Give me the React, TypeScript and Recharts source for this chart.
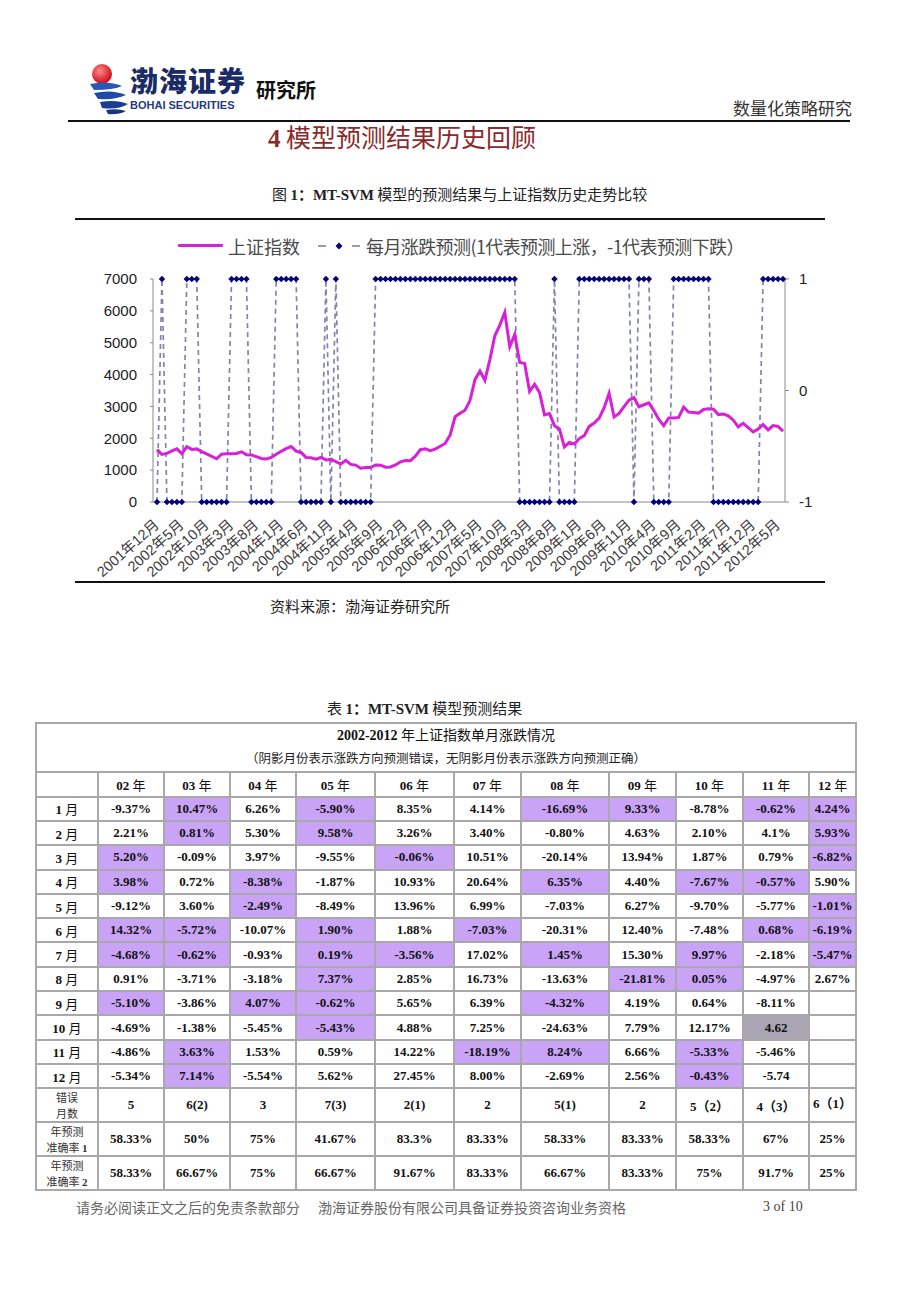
import React from "react";
import { LineChart, Line, XAxis, YAxis } from "recharts";

// 月份（每个点的预测对应下一个月）
const MONTHS = [
  "2001年12月",
  "2002年1月", "2002年2月", "2002年3月", "2002年4月", "2002年5月", "2002年6月", "2002年7月", "2002年8月", "2002年9月", "2002年10月", "2002年11月", "2002年12月",
  "2003年1月", "2003年2月", "2003年3月", "2003年4月", "2003年5月", "2003年6月", "2003年7月", "2003年8月", "2003年9月", "2003年10月", "2003年11月", "2003年12月",
  "2004年1月", "2004年2月", "2004年3月", "2004年4月", "2004年5月", "2004年6月", "2004年7月", "2004年8月", "2004年9月", "2004年10月", "2004年11月", "2004年12月",
  "2005年1月", "2005年2月", "2005年3月", "2005年4月", "2005年5月", "2005年6月", "2005年7月", "2005年8月", "2005年9月", "2005年10月", "2005年11月", "2005年12月",
  "2006年1月", "2006年2月", "2006年3月", "2006年4月", "2006年5月", "2006年6月", "2006年7月", "2006年8月", "2006年9月", "2006年10月", "2006年11月", "2006年12月",
  "2007年1月", "2007年2月", "2007年3月", "2007年4月", "2007年5月", "2007年6月", "2007年7月", "2007年8月", "2007年9月", "2007年10月", "2007年11月", "2007年12月",
  "2008年1月", "2008年2月", "2008年3月", "2008年4月", "2008年5月", "2008年6月", "2008年7月", "2008年8月", "2008年9月", "2008年10月", "2008年11月", "2008年12月",
  "2009年1月", "2009年2月", "2009年3月", "2009年4月", "2009年5月", "2009年6月", "2009年7月", "2009年8月", "2009年9月", "2009年10月", "2009年11月", "2009年12月",
  "2010年1月", "2010年2月", "2010年3月", "2010年4月", "2010年5月", "2010年6月", "2010年7月", "2010年8月", "2010年9月", "2010年10月", "2010年11月", "2010年12月",
  "2011年1月", "2011年2月", "2011年3月", "2011年4月", "2011年5月", "2011年6月", "2011年7月", "2011年8月", "2011年9月", "2011年10月", "2011年11月", "2011年12月",
  "2012年1月", "2012年2月", "2012年3月", "2012年4月", "2012年5月", "2012年6月",
];

const SH_INDEX = [
  1646,
  1492, 1525, 1604, 1668, 1516, 1733, 1652, 1667, 1582, 1508, 1434, 1358,
  1500, 1512, 1511, 1522, 1576, 1486, 1477, 1422, 1367, 1348, 1397, 1497,
  1591, 1675, 1742, 1596, 1556, 1399, 1386, 1342, 1397, 1321, 1341, 1267,
  1192, 1306, 1181, 1159, 1061, 1081, 1083, 1163, 1156, 1093, 1099, 1161,
  1258, 1299, 1298, 1440, 1641, 1672, 1613, 1659, 1752, 1838, 2099, 2675,
  2786, 2881, 3184, 3841, 4109, 3820, 4471, 5218, 5552, 5954, 4871, 5261,
  4383, 4348, 3472, 3693, 3433, 2736, 2776, 2397, 2294, 1729, 1871, 1821,
  1991, 2083, 2373, 2478, 2633, 2960, 3412, 2668, 2780, 2996, 3196, 3278,
  2990, 3053, 3110, 2871, 2593, 2399, 2638, 2639, 2656, 2980, 2821, 2809,
  2791, 2906, 2929, 2912, 2744, 2763, 2702, 2568, 2360, 2469, 2334, 2200,
  2293, 2429, 2264, 2397, 2373, 2226,
];

const FORECAST = [
  -1,
  1, -1, -1, -1, -1, 1, 1, 1, -1, -1, -1, -1,
  -1, -1, 1, 1, 1, 1, -1, -1, -1, -1, -1, 1,
  1, 1, 1, 1, -1, -1, -1, -1, -1, 1, -1, 1,
  -1, -1, -1, -1, -1, -1, -1, 1, 1, 1, 1, 1,
  1, 1, 1, 1, 1, 1, 1, 1, 1, 1, 1, 1,
  1, 1, 1, 1, 1, 1, 1, 1, 1, 1, 1, 1,
  -1, -1, -1, -1, -1, -1, -1, 1, -1, -1, -1, -1,
  1, 1, 1, 1, 1, 1, 1, 1, 1, 1, 1, -1,
  1, 1, 1, -1, -1, -1, -1, 1, 1, 1, 1, 1,
  1, 1, 1, -1, -1, -1, -1, -1, -1, -1, -1, -1,
  -1, 1, 1, 1, 1, 1,
];

const LEFT_TICKS = [0, 1000, 2000, 3000, 4000, 5000, 6000, 7000];
const RIGHT_TICKS = [-1, 0, 1];

// 表 1
const YEAR_HEADS = ["02", "03", "04", "05", "06", "07", "08", "09", "10", "11", "12"];
const MONTH_ROWS = ["1", "2", "3", "4", "5", "6", "7", "8", "9", "10", "11", "12"];
const RET_02 = ["-9.37%", "2.21%", "5.20%", "3.98%", "-9.12%", "14.32%", "-4.68%", "0.91%", "-5.10%", "-4.69%", "-4.86%", "-5.34%"];
const RET_03 = ["10.47%", "0.81%", "-0.09%", "0.72%", "3.60%", "-5.72%", "-0.62%", "-3.71%", "-3.86%", "-1.38%", "3.63%", "7.14%"];
const RET_04 = ["6.26%", "5.30%", "3.97%", "-8.38%", "-2.49%", "-10.07%", "-0.93%", "-3.18%", "4.07%", "-5.45%", "1.53%", "-5.54%"];
const RET_05 = ["-5.90%", "9.58%", "-9.55%", "-1.87%", "-8.49%", "1.90%", "0.19%", "7.37%", "-0.62%", "-5.43%", "0.59%", "5.62%"];
const RET_06 = ["8.35%", "3.26%", "-0.06%", "10.93%", "13.96%", "1.88%", "-3.56%", "2.85%", "5.65%", "4.88%", "14.22%", "27.45%"];
const RET_07 = ["4.14%", "3.40%", "10.51%", "20.64%", "6.99%", "-7.03%", "17.02%", "16.73%", "6.39%", "7.25%", "-18.19%", "8.00%"];
const RET_08 = ["-16.69%", "-0.80%", "-20.14%", "6.35%", "-7.03%", "-20.31%", "1.45%", "-13.63%", "-4.32%", "-24.63%", "8.24%", "-2.69%"];
const RET_09 = ["9.33%", "4.63%", "13.94%", "4.40%", "6.27%", "12.40%", "15.30%", "-21.81%", "4.19%", "7.79%", "6.66%", "2.56%"];
const RET_10 = ["-8.78%", "2.10%", "1.87%", "-7.67%", "-9.70%", "-7.48%", "9.97%", "0.05%", "0.64%", "12.17%", "-5.33%", "-0.43%"];
const RET_11 = ["-0.62%", "4.1%", "0.79%", "-0.57%", "-5.77%", "0.68%", "-2.18%", "-4.97%", "-8.11%", "4.62", "-5.46%", "-5.74"];
const RET_12 = ["4.24%", "5.93%", "-6.82%", "5.90%", "-1.01%", "-6.19%", "-5.47%", "2.67%", "", "", "", ""];
const RETURNS = [RET_02, RET_03, RET_04, RET_05, RET_06, RET_07, RET_08, RET_09, RET_10, RET_11, RET_12];

const WRONG_02 = [3, 4, 6, 7, 9];
const WRONG_03 = [1, 2, 6, 7, 11, 12];
const WRONG_04 = [4, 5, 9];
const WRONG_05 = [1, 2, 6, 7, 8, 9, 10];
const WRONG_06 = [3, 7];
const WRONG_07 = [6, 11];
const WRONG_08 = [1, 4, 7, 9, 11];
const WRONG_09 = [1, 8];
const WRONG_10 = [4, 7, 8, 11, 12];
const WRONG_11 = [1, 4, 6];
const WRONG_12 = [1, 2, 3, 5, 6, 7];
const WRONG = [WRONG_02, WRONG_03, WRONG_04, WRONG_05, WRONG_06, WRONG_07, WRONG_08, WRONG_09, WRONG_10, WRONG_11, WRONG_12];
const GRAY_CELL = { col: 9, month: 10 };

const ERR_MONTHS = ["5", "6(2)", "3", "7(3)", "2(1)", "2", "5(1)", "2", "5（2）", "4（3）", "6（1）"];
const ACC_1 = ["58.33%", "50%", "75%", "41.67%", "83.3%", "83.33%", "58.33%", "83.33%", "58.33%", "67%", "25%"];
const ACC_2 = ["58.33%", "66.67%", "75%", "66.67%", "91.67%", "83.33%", "66.67%", "83.33%", "75%", "91.7%", "25%"];

const COL_W = [62, 66, 66, 66, 79, 79, 67, 88, 67, 67, 66, 47];

const SANS = '"Liberation Sans", Arial, "Noto Sans CJK SC", sans-serif';
const SERIF = '"Liberation Serif", "Times New Roman", "Noto Sans CJK SC", serif';
const CJK = '"Noto Sans CJK SC", "Liberation Sans", sans-serif';

const chartData = MONTHS.map((m, i) => ({ month: m, idx: SH_INDEX[i], fc: FORECAST[i] }));

// eslint-disable-next-line @typescript-eslint/no-explicit-any
const Diamond = (p: any) => {
  const { cx, cy, index } = p;
  if (cx == null || cy == null) return null;
  const r = 3.2;
  return (
    <path
      key={`dm${index}`}
      d={`M${cx},${cy - r}L${cx + r},${cy}L${cx},${cy + r}L${cx - r},${cy}Z`}
      fill="#000080"
    />
  );
};

// eslint-disable-next-line @typescript-eslint/no-explicit-any
const XTick = (p: any) => {
  const { x, y, payload } = p;
  const ax = x + 3;
  const ay = y + 24;
  return (
    <text
      x={ax}
      y={ay}
      textAnchor="end"
      transform={`rotate(-42 ${ax} ${ay})`}
      fontSize={14.5}
      fill="#3a3a3a"
      fontFamily={SANS}
    >
      {payload.value}
    </text>
  );
};

const Txt = ({ left, top, size, children, style }: {
  left: number; top: number; size: number; children: React.ReactNode; style?: React.CSSProperties;
}) => (
  <div style={{ position: "absolute", left, top: top - size / 2, fontSize: size, lineHeight: `${size}px`, whiteSpace: "nowrap", ...style }}>
    {children}
  </div>
);

const cellBase: React.CSSProperties = {
  border: "2px solid #a8a8a8",
  textAlign: "center",
  verticalAlign: "middle",
  padding: 0,
  fontFamily: SERIF,
  fontSize: 13,
  fontWeight: "bold",
  color: "#111",
};

const labelCell: React.CSSProperties = { ...cellBase, fontFamily: CJK, fontWeight: "normal", fontSize: 11, color: "#333" };
const Line2 = ({ children }: { children: React.ReactNode }) => (
  <div style={{ height: 16, lineHeight: "16px", whiteSpace: "nowrap" }}>{children}</div>
);

function Logo() {
  return (
    <>
      <svg style={{ position: "absolute", left: 84, top: 60 }} width={46} height={56}>
        <defs>
          <radialGradient id="ball" cx="40%" cy="35%" r="60%">
            <stop offset="0%" stopColor="#ff8a8a" />
            <stop offset="100%" stopColor="#d3121e" />
          </radialGradient>
        </defs>
        <circle cx={18} cy={14} r={10} fill="url(#ball)" />
        <path d="M6,24 Q24,20 38,26 Q30,30 10,30 Z" fill="#2a56b8" />
        <path d="M10,33 Q28,29 42,35 Q32,40 14,39 Z" fill="#1f4aa8" />
        <path d="M16,42 Q32,39 44,44 Q34,50 18,48 Z" fill="#1a3d92" />
        <path d="M22,50 Q34,48 42,51 Q34,55 24,54 Z" fill="#17357e" />
      </svg>
      <Txt left={130} top={80} size={28} style={{ fontFamily: CJK, fontWeight: 900, color: "#1b2b66", letterSpacing: 1 }}>渤海证券</Txt>
      <Txt left={130} top={105} size={11} style={{ fontFamily: SANS, fontWeight: "bold", color: "#1f3a86" }}>BOHAI SECURITIES</Txt>
      <Txt left={256} top={90} size={20} style={{ fontFamily: CJK, fontWeight: "bold", color: "#111" }}>研究所</Txt>
    </>
  );
}

function Legend() {
  return (
    <>
      <div style={{ position: "absolute", left: 178, top: 244, width: 45, height: 3, background: "#d820d8", borderRadius: 1 }} />
      <Txt left={228} top={246} size={18} style={{ fontFamily: CJK, color: "#4a4a4a" }}>上证指数</Txt>
      <svg style={{ position: "absolute", left: 316, top: 238 }} width={48} height={16}>
        <line x1={2} y1={8} x2={10} y2={8} stroke="#8080aa" strokeWidth={1.6} />
        <line x1={36} y1={8} x2={44} y2={8} stroke="#8080aa" strokeWidth={1.6} />
        <path d="M23,4.5L26.5,8L23,11.5L19.5,8Z" fill="#000080" />
      </svg>
      <Txt left={366} top={246} size={18} style={{ fontFamily: CJK, color: "#4a4a4a", letterSpacing: -0.6 }}>
        每月涨跌预测(1代表预测上涨，-1代表预测下跌）
      </Txt>
    </>
  );
}

function Chart() {
  return (
    <div style={{ position: "absolute", left: 60, top: 260 }}>
      <LineChart width={770} height={330} data={chartData} margin={{ top: 19, right: 5, bottom: 0, left: 0 }}>
        <XAxis
          dataKey="month"
          interval={4}
          tick={<XTick />}
          tickLine={false}
          tickSize={0}
          tickMargin={0}
          height={88}
          axisLine={{ stroke: "#8a8a8a" }}
          padding={{ left: 4, right: 2 }}
        />
        <YAxis
          yAxisId="l"
          domain={[0, 7000]}
          ticks={LEFT_TICKS}
          width={93}
          tickSize={3}
          tickMargin={13}
          tickLine={{ stroke: "#8a8a8a" }}
          axisLine={{ stroke: "#8a8a8a" }}
          tick={{ fill: "#222", fontSize: 15, fontFamily: SANS }}
          allowDataOverflow
        />
        <YAxis
          yAxisId="r"
          orientation="right"
          domain={[-1, 1]}
          ticks={RIGHT_TICKS}
          width={40}
          tickSize={4}
          tickMargin={10}
          tickLine={{ stroke: "#8a8a8a" }}
          axisLine={{ stroke: "#8a8a8a" }}
          tick={{ fill: "#222", fontSize: 15, fontFamily: SANS }}
        />
        <Line
          yAxisId="r"
          dataKey="fc"
          type="linear"
          stroke="#8383ad"
          strokeWidth={1.7}
          strokeDasharray="5 4"
          dot={Diamond}
          activeDot={false}
          isAnimationActive={false}
        />
        <Line
          yAxisId="l"
          dataKey="idx"
          type="linear"
          stroke="#d820d8"
          strokeWidth={3}
          dot={false}
          activeDot={false}
          isAnimationActive={false}
        />
      </LineChart>
    </div>
  );
}

function Table() {
  const rowH = 24.3;
  return (
    <table
      style={{
        position: "absolute", left: 35, top: 722, width: 820, borderCollapse: "collapse",
        tableLayout: "fixed", border: "2px solid #a8a8a8",
      }}
    >
      <colgroup>
        {COL_W.map((w, i) => <col key={i} style={{ width: w }} />)}
      </colgroup>
      <tbody>
        <tr style={{ height: 48.7 }}>
          <td colSpan={12} style={{ ...cellBase, fontWeight: "normal" }}>
            <div style={{ fontSize: 14, lineHeight: "20px", fontWeight: "bold" }}>
              2002-2012 <span style={{ fontFamily: CJK, fontWeight: "normal" }}>年上证指数单月涨跌情况</span>
            </div>
            <div style={{ fontSize: 12.5, lineHeight: "24px", fontFamily: CJK, fontWeight: "normal", color: "#222" }}>
              （阴影月份表示涨跌方向预测错误，无阴影月份表示涨跌方向预测正确）
            </div>
          </td>
        </tr>
        <tr style={{ height: 25 }}>
          <td style={cellBase} />
          {YEAR_HEADS.map((y) => (
            <td key={y} style={cellBase}>
              {y} <span style={{ fontFamily: CJK, fontWeight: "normal" }}>年</span>
            </td>
          ))}
        </tr>
        {MONTH_ROWS.map((m, mi) => (
          <tr key={m} style={{ height: rowH }}>
            <td style={cellBase}>
              {m} <span style={{ fontFamily: CJK, fontWeight: "normal" }}>月</span>
            </td>
            {RETURNS.map((col, ci) => {
              const month = mi + 1;
              const gray = ci === GRAY_CELL.col && month === GRAY_CELL.month;
              const wrong = WRONG[ci].includes(month);
              const bg = gray ? "#a9a5b2" : wrong ? "#c9a3f6" : "#fff";
              return (
                <td key={ci} style={{ ...cellBase, background: bg }}>{col[mi]}</td>
              );
            })}
          </tr>
        ))}
        <tr>
          <td style={labelCell}>
            <Line2>错误</Line2>
            <Line2>月数</Line2>
          </td>
          {ERR_MONTHS.map((v, i) => (
            <td key={i} style={{ ...cellBase, verticalAlign: i === 10 ? "top" : "middle", paddingTop: i === 10 ? 4 : 0 }}>{v}</td>
          ))}
        </tr>
        <tr>
          <td style={labelCell}>
            <Line2>年预测</Line2>
            <Line2>准确率 <b style={{ fontFamily: SERIF }}>1</b></Line2>
          </td>
          {ACC_1.map((v, i) => <td key={i} style={cellBase}>{v}</td>)}
        </tr>
        <tr>
          <td style={labelCell}>
            <Line2>年预测</Line2>
            <Line2>准确率 <b style={{ fontFamily: SERIF }}>2</b></Line2>
          </td>
          {ACC_2.map((v, i) => <td key={i} style={cellBase}>{v}</td>)}
        </tr>
      </tbody>
    </table>
  );
}

export default function App() {
  return (
    <div style={{ position: "absolute", left: 0, top: 0, width: 920, height: 1301, background: "#fff", fontFamily: SERIF, color: "#111" }}>
      <Logo />
      <Txt left={733} top={107} size={17} style={{ fontFamily: CJK, color: "#333" }}>数量化策略研究</Txt>
      <div style={{ position: "absolute", left: 68, top: 120, width: 782, height: 2, background: "#111" }} />
      <Txt left={268} top={136} size={25} style={{ fontFamily: CJK, color: "#8b2a2a" }}>
        <b style={{ fontFamily: SERIF }}>4</b> 模型预测结果历史回顾
      </Txt>
      <Txt left={272} top={193} size={15} style={{ fontFamily: CJK, color: "#222" }}>
        图 <b style={{ fontFamily: SERIF }}>1：MT-SVM</b> 模型的预测结果与上证指数历史走势比较
      </Txt>
      <div style={{ position: "absolute", left: 75, top: 218, width: 750, height: 1.5, background: "#111" }} />
      <Legend />
      <Chart />
      <div style={{ position: "absolute", left: 75, top: 581, width: 750, height: 1.5, background: "#111" }} />
      <Txt left={270} top={605} size={15} style={{ fontFamily: CJK, color: "#222" }}>资料来源：渤海证券研究所</Txt>
      <Txt left={327} top={707} size={15} style={{ fontFamily: CJK, color: "#222" }}>
        表 <b style={{ fontFamily: SERIF }}>1：MT-SVM</b> 模型预测结果
      </Txt>
      <Table />
      <Txt left={76} top={1207} size={14} style={{ fontFamily: CJK, color: "#666" }}>请务必阅读正文之后的免责条款部分</Txt>
      <Txt left={318} top={1207} size={14} style={{ fontFamily: CJK, color: "#666" }}>渤海证券股份有限公司具备证券投资咨询业务资格</Txt>
      <Txt left={763} top={1207} size={14} style={{ fontFamily: SERIF, color: "#444" }}>3 of 10</Txt>
    </div>
  );
}
